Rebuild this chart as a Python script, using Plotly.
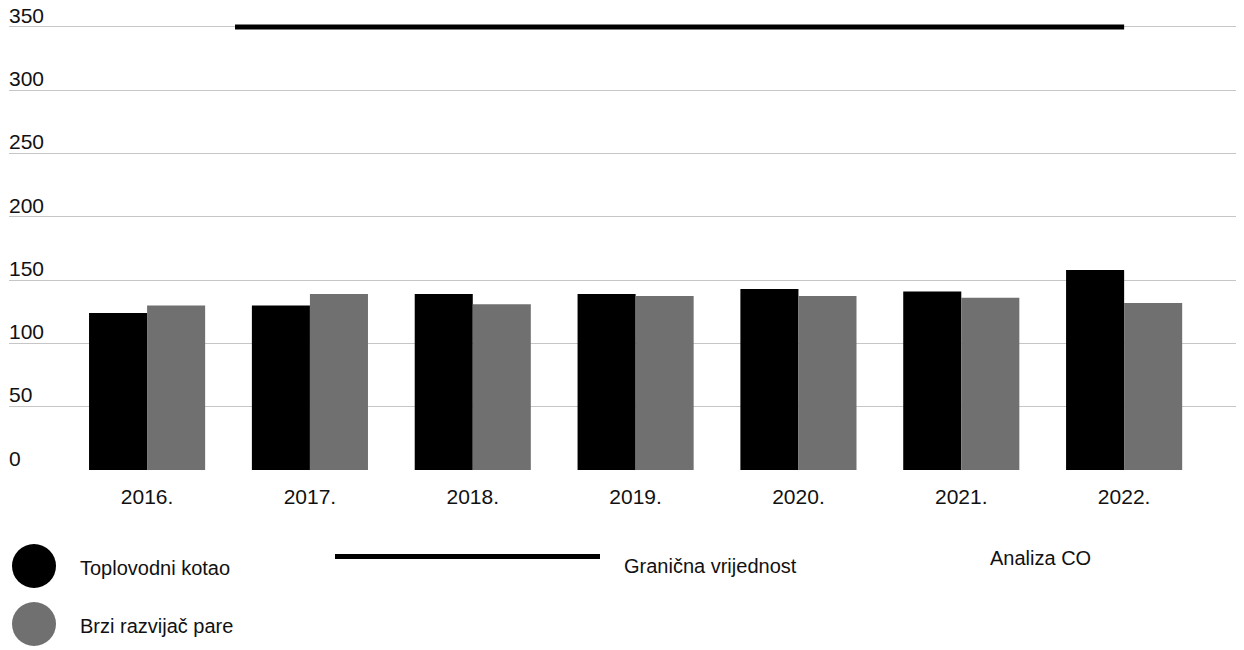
import plotly.graph_objects as go

# ---- data ----
years = ["2016.", "2017.", "2018.", "2019.", "2020.", "2021.", "2022."]
toplovodni_kotao = [124, 130, 139, 139, 143, 141, 158]
brzi_razvijac = [130, 139, 131, 137.5, 137.5, 136, 132]
granicna_vrijednost = 350
granicna_x = [0.54, 6]          # extent of the limit line in category units
y_ticks = [0, 50, 100, 150, 200, 250, 300, 350]
series_names = ["Toplovodni kotao", "Brzi razvijač pare", "Granična vrijednost"]
title_text = "Analiza CO"

# ---- layout constants (page has an 8px body margin) ----
OFF = 8
W, H = 1244 - OFF, 650 - OFF
L, R, T, B = 1, 1, 0, 180
PW, PH = W - L - R, H - T - B
FONT = "Liberation Sans, Arial, Helvetica, sans-serif"
BLACK = "#000000"
GREY = "#707070"
TXT = "#111111"


def px(page_x):
    return (page_x - OFF - L) / PW


def py(page_y):
    return (H - B - (page_y - OFF)) / PH


x_idx = list(range(len(years)))

fig = go.Figure()
fig.add_trace(go.Bar(x=x_idx, y=toplovodni_kotao, name=series_names[0],
                     marker=dict(color=BLACK, line=dict(width=0))))
fig.add_trace(go.Bar(x=x_idx, y=brzi_razvijac, name=series_names[1],
                     marker=dict(color=GREY, line=dict(width=0))))
fig.add_trace(go.Scatter(x=granicna_x, y=[granicna_vrijednost] * len(granicna_x),
                         mode="lines", name=series_names[2],
                         line=dict(color=BLACK, width=5)))

fig.update_layout(
    width=W, height=H,
    margin=dict(l=L, r=R, t=T, b=B, pad=0, autoexpand=False),
    paper_bgcolor="white", plot_bgcolor="white",
    barmode="group", bargap=0.287, bargroupgap=0,
    showlegend=False,
    font=dict(family=FONT, size=20, color=TXT),
)
fig.update_xaxes(
    range=[-0.848, 6.73], tickmode="array", tickvals=x_idx, ticktext=years,
    showgrid=False, zeroline=False, showline=False, ticks="",
    ticklabelstandoff=12, automargin=False,
    tickfont=dict(size=21, color=TXT),
)
fig.update_yaxes(
    range=[0, 365.0], tickmode="array", tickvals=y_ticks,
    ticklabelposition="inside top", ticklabelstandoff=-3, ticklabelshift=3,
    ticklabeloverflow="allow", automargin=False,
    showgrid=True, gridcolor="#c6c6c6", gridwidth=1,
    zeroline=False, showline=False, ticks="",
    tickfont=dict(size=21, color=TXT),
)

# ---- custom legend ----
shapes = [
    dict(type="circle", xref="paper", yref="paper",
         x0=px(12), x1=px(56), y0=py(588), y1=py(544),
         fillcolor=BLACK, line=dict(width=0)),
    dict(type="circle", xref="paper", yref="paper",
         x0=px(12), x1=px(56), y0=py(646), y1=py(602),
         fillcolor=GREY, line=dict(width=0)),
    dict(type="line", xref="paper", yref="paper",
         x0=px(335), x1=px(600), y0=py(556.5), y1=py(556.5),
         line=dict(color=BLACK, width=5)),
]
annotations = [
    dict(text=series_names[0], x=px(78), y=py(568)),
    dict(text=series_names[1], x=px(78), y=py(626)),
    dict(text=series_names[2], x=px(622), y=py(566)),
    dict(text=title_text, x=px(988), y=py(558)),
]
for a in annotations:
    a.update(xref="paper", yref="paper", xanchor="left", yanchor="middle",
             showarrow=False, font=dict(family=FONT, size=20, color=TXT))

fig.update_layout(shapes=shapes, annotations=annotations)

fig.write_html("out.html")
